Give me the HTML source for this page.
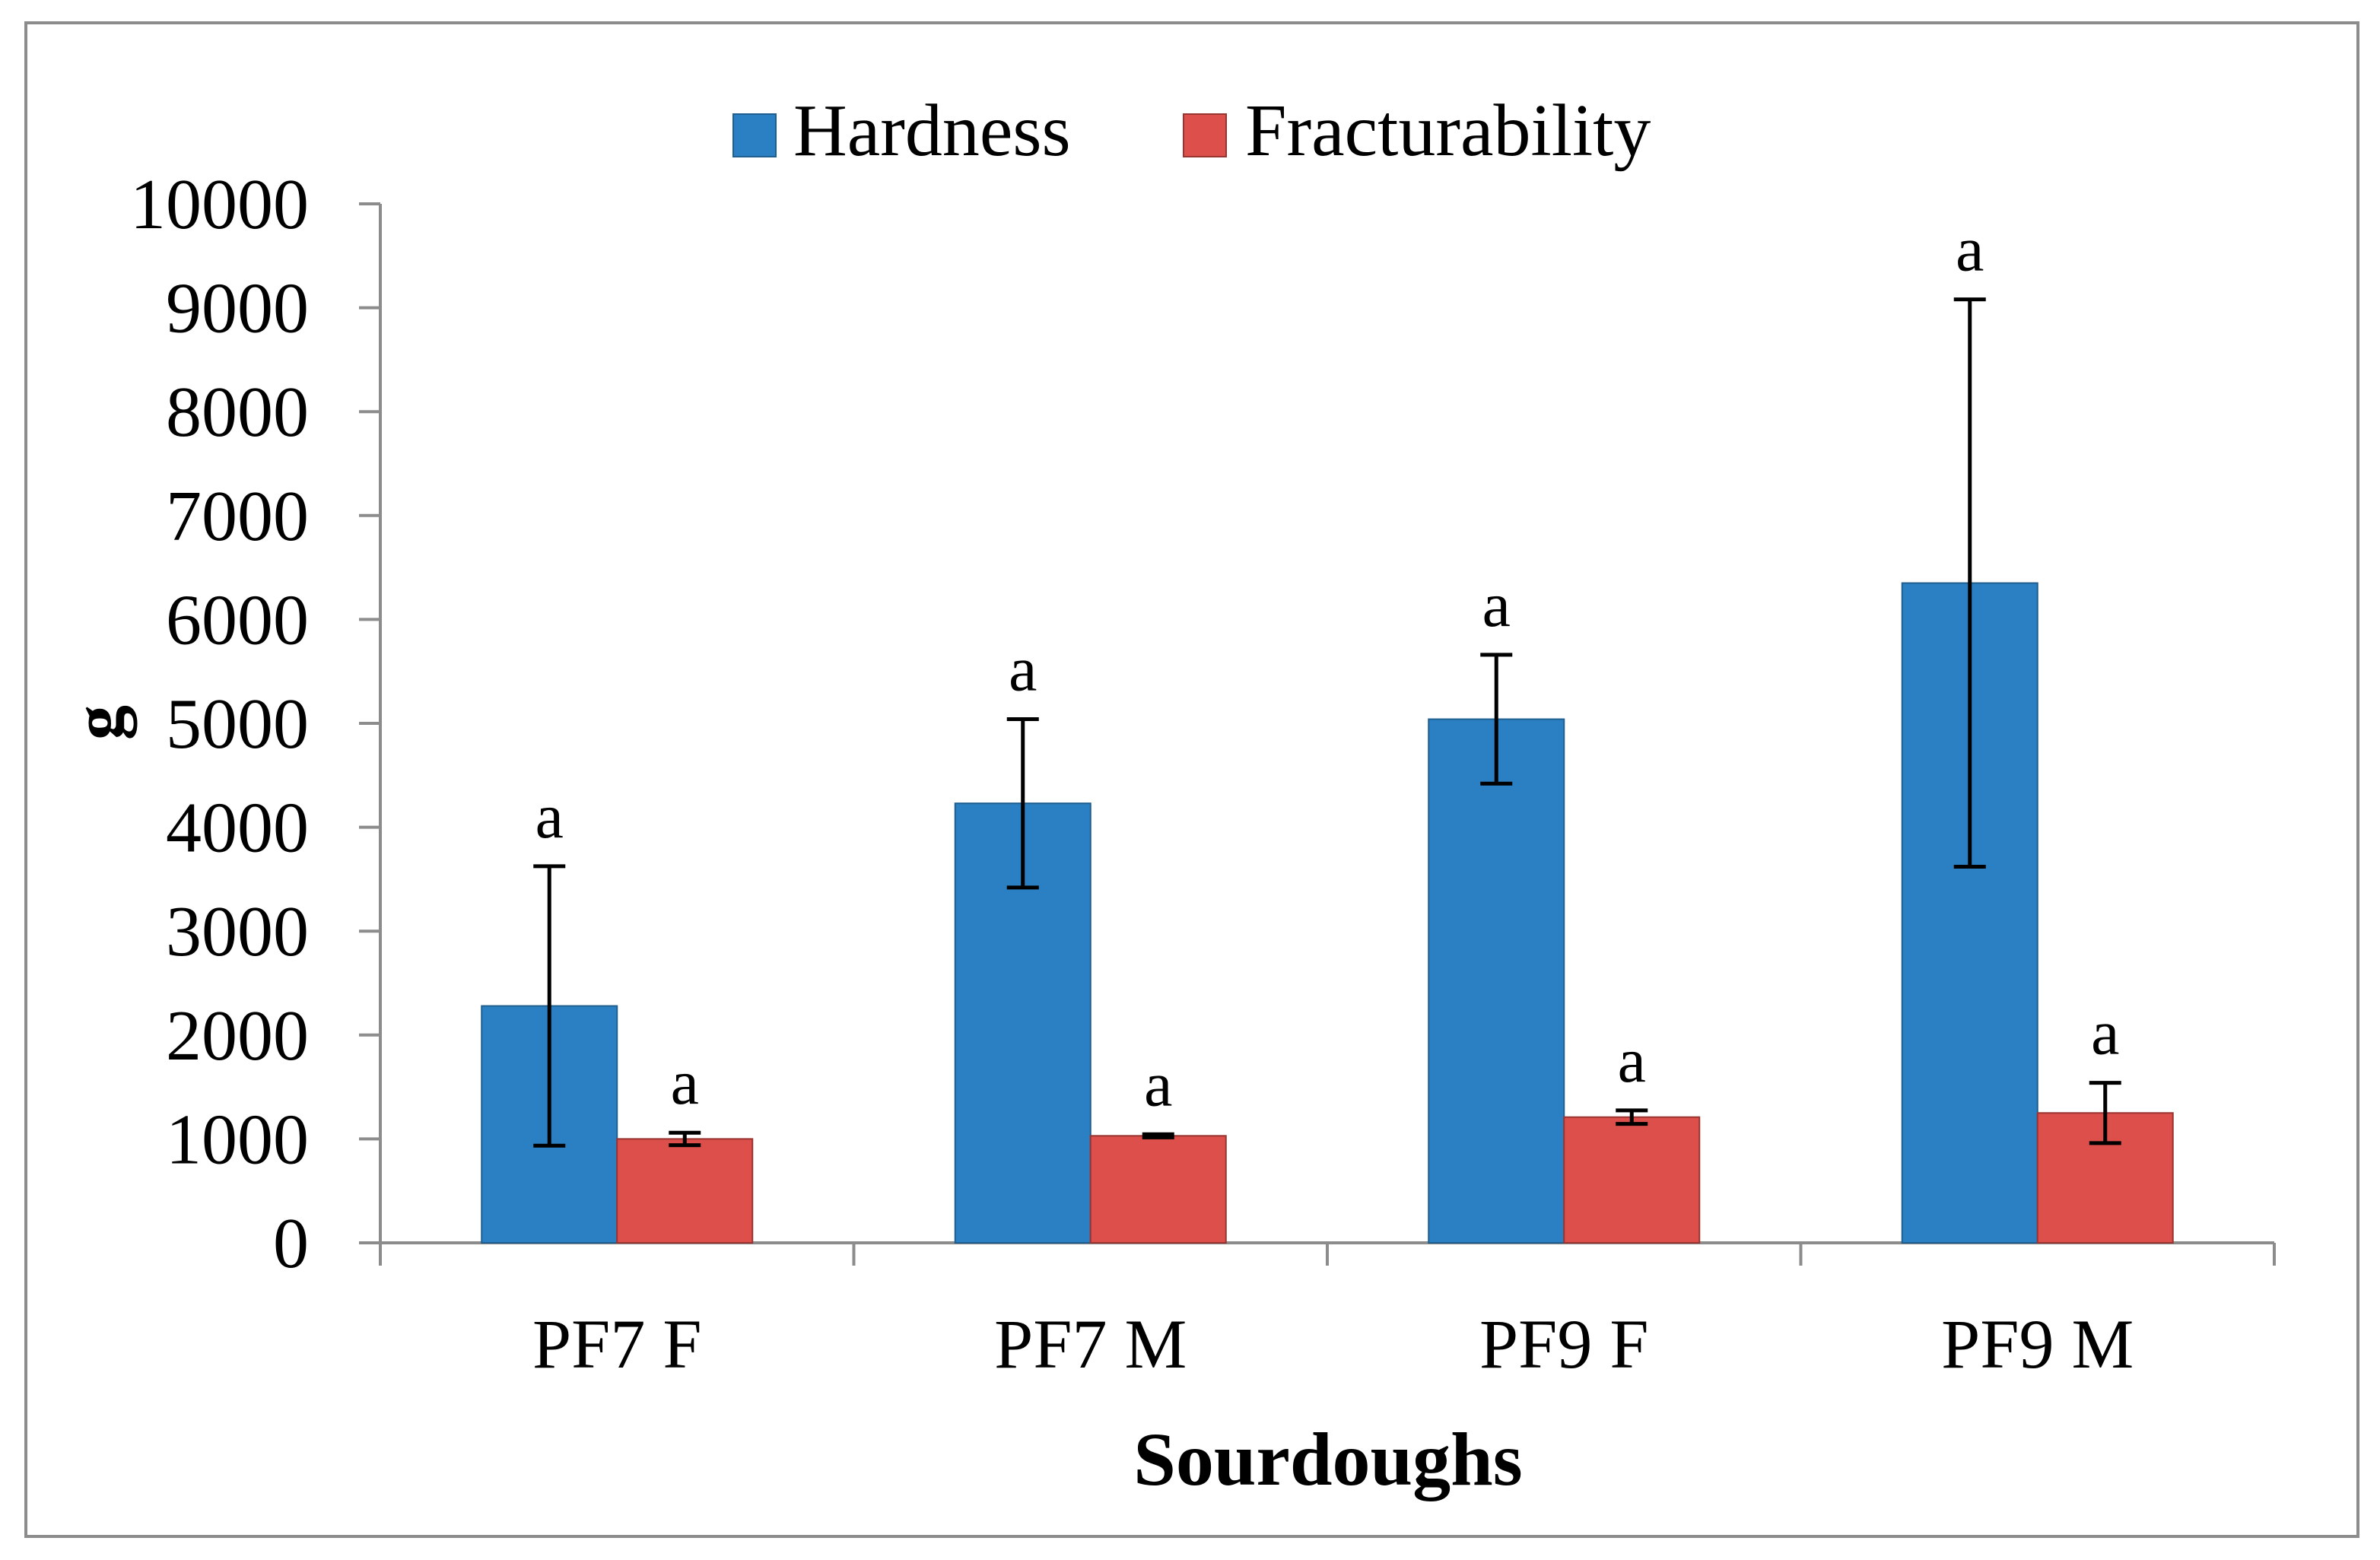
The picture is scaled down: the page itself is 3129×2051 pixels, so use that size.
<!DOCTYPE html>
<html><head><meta charset="utf-8"><style>
html,body{margin:0;padding:0;background:#fff;}
svg{display:block;font-family:"Liberation Serif",serif;}
</style></head><body>
<svg id="chart" width="3129" height="2051" viewBox="0 0 3129 2051" xmlns="http://www.w3.org/2000/svg">
<rect x="34" y="30" width="3066" height="1990" fill="#fff" stroke="#8c8c8c" stroke-width="4"/>
<g>
<rect x="964" y="150" width="56" height="56" fill="#2a80c2" stroke="#1f5f90" stroke-width="2"/>
<text x="1043" y="204" font-size="98">Hardness</text>
<rect x="1556" y="150" width="56" height="56" fill="#dc4f4a" stroke="#9a3431" stroke-width="2"/>
<text x="1637" y="204" font-size="98">Fracturability</text>
</g>
<g id="plot"></g>
<text transform="translate(160,950) rotate(-90)" text-anchor="middle" font-size="92" font-weight="bold">g</text>
<text x="1746" y="1952" text-anchor="middle" font-size="100" font-weight="bold">Sourdoughs</text>
</svg>
<script>
const categories = ["PF7 F","PF7 M","PF9 F","PF9 M"];
const hardness = [2280, 4230, 5040, 6350];
const hardnessErr = [1345, 810, 620, 2730];
const fracturability = [1000, 1030, 1210, 1250];
const fracturabilityErr = [60, 15, 65, 290];
const letters = ["a","a","a","a"];
const yTicks = [0,1000,2000,3000,4000,5000,6000,7000,8000,9000,10000];

const X0=500, X1=2990, Y0=1634, Y1=268, YMAX=10000;
const NS="http://www.w3.org/2000/svg";
const g=document.getElementById('plot');
const groupW=(X1-X0)/categories.length, barW=178;
function y(v){return Y0-(v/YMAX)*(Y0-Y1);}
function xc(i){return X0+groupW*(i+0.5);}
function el(tag,attrs,parent){const e=document.createElementNS(NS,tag);for(const k in attrs)e.setAttribute(k,attrs[k]);(parent||g).appendChild(e);return e;}

let a=el('line',{x1:X0,y1:Y1,x2:X0,y2:Y0,stroke:'#8c8c8c','stroke-width':4});


yTicks.forEach(t=>{
  const tk=el('line',{x1:X0-28,y1:y(t),x2:X0,y2:y(t),stroke:'#8c8c8c','stroke-width':4});
  
  
  const tl=el('text',{x:406,y:y(t)+32,'text-anchor':'end','font-size':94});
  tl.textContent=t;
  
  
});
a=el('line',{x1:X0,y1:Y0,x2:X1,y2:Y0,stroke:'#8c8c8c','stroke-width':4});


for(let i=0;i<=categories.length;i++){
  const tk=el('line',{x1:X0+groupW*i,y1:Y0,x2:X0+groupW*i,y2:Y0+30,stroke:'#8c8c8c','stroke-width':4});
  
  
}
function bar(i,v,err,color,stroke,off,name){
  const x=xc(i)+off;
  const r=el('rect',{x:x,y:y(v),width:barW,height:Y0-y(v),fill:color,stroke:stroke,'stroke-width':2});
  
  
  const cx=x+barW/2;
  const e=el('path',{d:`M${cx},${y(v+err)}V${y(v-err)}M${cx-21},${y(v+err)}h42M${cx-21},${y(v-err)}h42`,stroke:'#000','stroke-width':5,fill:'none'});
  
  
  const t=el('text',{x:cx,y:y(v+err)-38,'text-anchor':'middle','font-size':84});
  t.textContent=letters[i];
  
  
}
categories.forEach((c,i)=>{
  bar(i,hardness[i],hardnessErr[i],'#2a80c2','#1f5f90',-barW,'bar-hardness');
  bar(i,fracturability[i],fracturabilityErr[i],'#dc4f4a','#9a3431',0,'bar-fracturability');
  const t=el('text',{x:xc(i),y:1798,'text-anchor':'middle','font-size':92});
  t.textContent=c;
  
  
});
</script>
</body></html>
